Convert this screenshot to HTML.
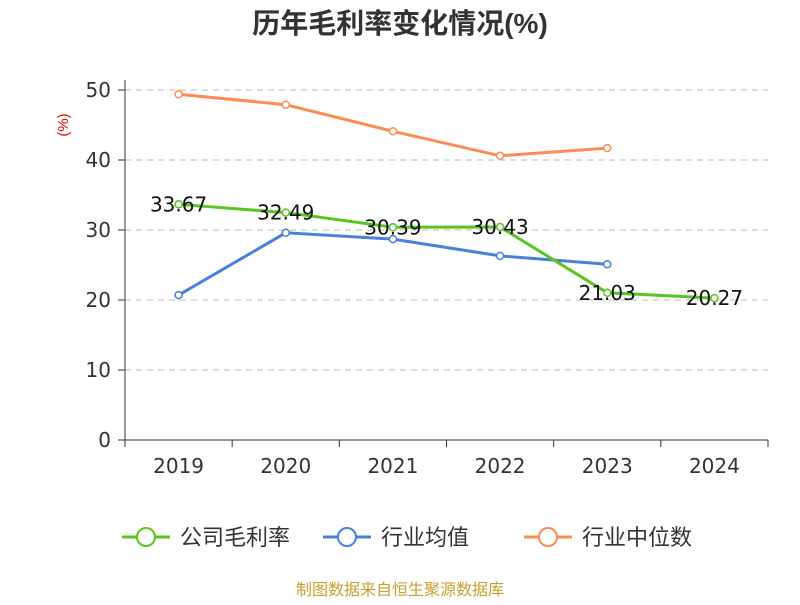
<!DOCTYPE html>
<html><head><meta charset="utf-8"><style>
body{margin:0;background:#fff;font-family:"Liberation Sans","Noto Sans CJK SC",sans-serif}
</style></head><body>
<svg id="c" width="800" height="600" xmlns="http://www.w3.org/2000/svg" font-family="Liberation Sans, Noto Sans CJK SC, sans-serif"></svg>
<script>
const categories=["2019","2020","2021","2022","2023","2024"];
const grossMargin=[33.67,32.49,30.39,30.43,21.03,20.27];
const industryAvg=[20.7,29.6,28.7,26.3,25.1,null];
const industryMedian=[49.4,47.9,44.1,40.6,41.7,null];
const yTicks=[0,10,20,30,40,50];
const NS="http://www.w3.org/2000/svg";
const svg=document.getElementById('c');
const L=125,R=768,T=90,B=440,yMax=50;
const NUM="DejaVu Sans, sans-serif";
const bw=(R-L)/categories.length;
const x=i=>L+bw*(i+0.5);
const y=v=>B-(v/yMax)*(B-T);
function el(t,a,txt){const e=document.createElementNS(NS,t);for(const k in a)e.setAttribute(k,a[k]);if(txt!=null)e.textContent=txt;svg.appendChild(e);return e;}
let e;
e=el('text',{x:400,y:33,'text-anchor':'middle','font-size':28,'font-weight':'bold',fill:'#333'},'历年毛利率变化情况(%)');

e=el('text',{x:0,y:0,transform:'translate(68,125) rotate(-90)','text-anchor':'middle','font-size':15,fill:'#e00'},'(%)');

yTicks.forEach(t=>{
 if(t>0){e=el('line',{x1:L,x2:R,y1:y(t),y2:y(t),stroke:'#bbb','stroke-dasharray':'6,5'});
 }
 e=el('line',{x1:L-7,x2:L,y1:y(t),y2:y(t),stroke:'#333'});
 e=el('text',{x:L-14,y:y(t)+7,'text-anchor':'end','font-size':20,'font-family':NUM,fill:'#333'},t);
 
});
e=el('line',{x1:L,x2:L,y1:T-10,y2:B,stroke:'#333'});
e=el('line',{x1:L,x2:R,y1:B,y2:B,stroke:'#333'});
for(let i=0;i<=categories.length;i++)el('line',{x1:L+bw*i,x2:L+bw*i,y1:B,y2:B+7,stroke:'#333'});
categories.forEach((c,i)=>{e=el('text',{x:x(i),y:473,'text-anchor':'middle','font-size':20,'font-family':NUM,fill:'#333'},c);
 });
function series(data,color,name){
 const pts=data.map((v,i)=>v==null?null:[x(i),y(v)]).filter(p=>p);
 e=el('polyline',{points:pts.map(p=>p.join(',')).join(' '),fill:'none',stroke:color,'stroke-width':3});
 
 pts.forEach(p=>{e=el('circle',{cx:p[0],cy:p[1],r:3.5,fill:'#fff',stroke:color,'stroke-width':1.5});
  });
}
series(industryMedian,'#fc8c55','industry-median');
series(industryAvg,'#4a7fdc','industry-average');
series(grossMargin,'#5ac421','gross-margin');
grossMargin.forEach((v,i)=>{e=el('text',{x:x(i),y:y(v)+7,'text-anchor':'middle','font-size':20,'font-family':NUM,fill:'#111'},v.toFixed(2));
 });
const legend=[['公司毛利率','#5ac421',122],['行业均值','#4a7fdc',323],['行业中位数','#fc8c55',524]];
legend.forEach(([n,c,lx])=>{
 const g=document.createElementNS(NS,'g');svg.appendChild(g);
 
 const a=(t,at,tx)=>{const k=document.createElementNS(NS,t);for(const q in at)k.setAttribute(q,at[q]);if(tx)k.textContent=tx;g.appendChild(k);};
 a('line',{x1:lx,x2:lx+48,y1:537,y2:537,stroke:c,'stroke-width':3});
 a('circle',{cx:lx+24,cy:537,r:9,fill:'#fff',stroke:c,'stroke-width':2});
 a('text',{x:lx+58,y:545,'font-size':22,fill:'#333'},n);
});
e=el('text',{x:400,y:595,'text-anchor':'middle','font-size':16,fill:'#c8a032'},'制图数据来自恒生聚源数据库');

</script>
</body></html>
